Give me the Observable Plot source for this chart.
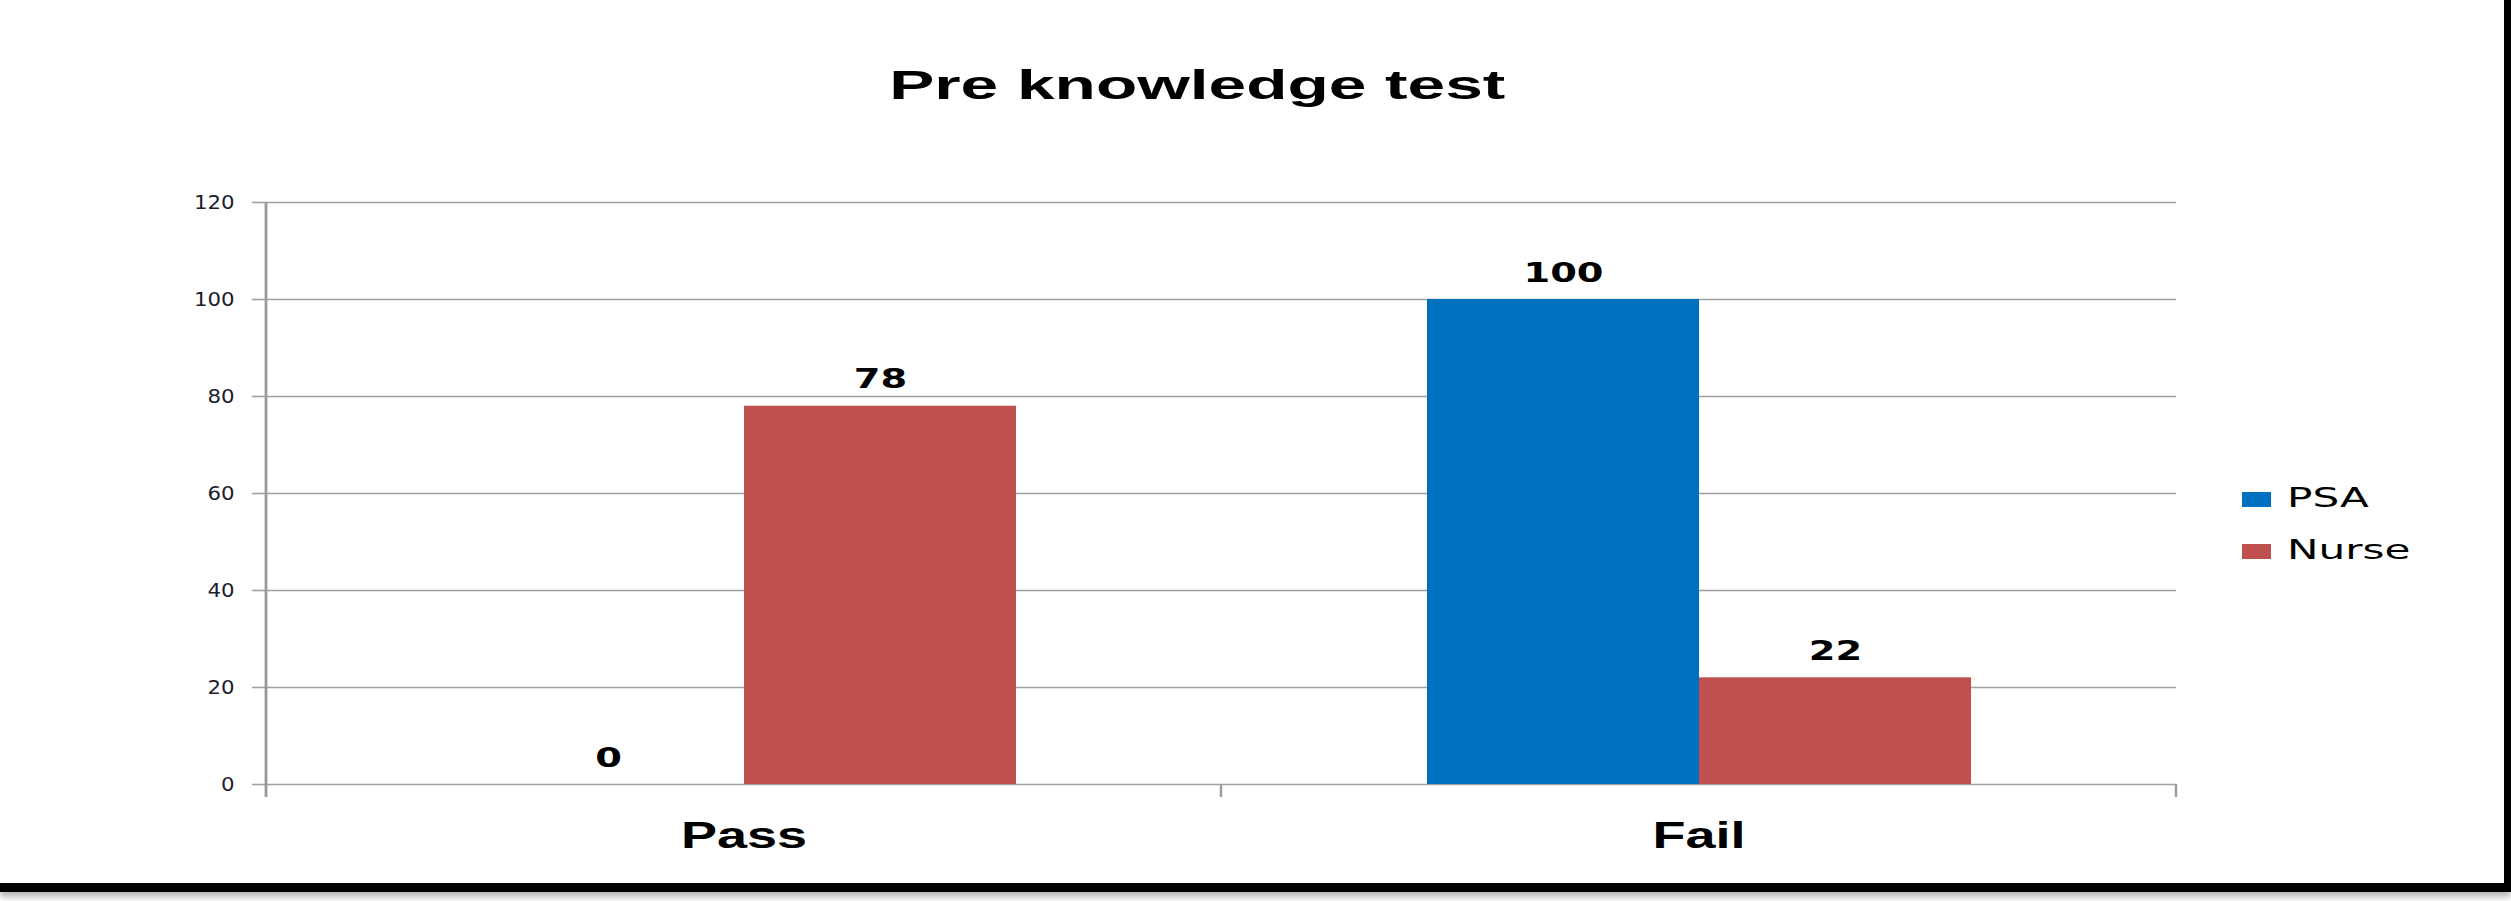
<!DOCTYPE html>
<html>
<head>
<meta charset="utf-8">
<script src="https://cdn.jsdelivr.net/npm/d3@7"></script>
<script src="https://cdn.jsdelivr.net/npm/@observablehq/plot@0.6"></script>
<style>
  html, body { margin: 0; padding: 0; background: #fff; overflow: hidden; width: 2511px; height: 901px; }
  #page {
    position: relative; width: 2504px; height: 883px; background: #fff;
    border-right: 7px solid #000; border-bottom: 9px solid #000;
    box-shadow: 0 5px 6px rgba(0,0,0,0.28);
  }
  #title {
    position: absolute; left: 0; top: 65px; width: 2394px; text-align: center;
    font-family: "Liberation Sans", Arial, sans-serif; font-weight: bold; font-size: 40px; line-height: 40px; color: #000;
  }
  #title span { display: inline-block; transform: scaleX(1.69); transform-origin: center; }
  #chart { position: absolute; left: 0; top: 0; }
  .lg-row { position: absolute; left: 2242px; height: 40px; width: 240px; }
  .lg-sw { position: absolute; left: 0; top: 9px; width: 29px; height: 15px; }
  .lg-tx {
    position: absolute; left: 45px; top: 1px; white-space: nowrap;
    font-family: "DejaVu Sans", Verdana, sans-serif; font-size: 26px; line-height: 28px; color: #000;
    transform: scaleX(1.62); transform-origin: left center;
  }
</style>
</head>
<body>
<div id="page">
  <div id="chart"></div>
  <div id="title"><span>Pre knowledge test</span></div>
  <div id="legend"></div>
</div>
<script>
// ---- data ----
const categories = ["Pass", "Fail"];
const series = ["PSA", "Nurse"];
const psaValues = [0, 100];
const nurseValues = [78, 22];
const seriesColors = ["#0070C0", "#C0504D"];
const yTicks = [0, 20, 40, 60, 80, 100, 120];

const data = categories.flatMap((c, i) => [
  {category: c, series: series[0], value: psaValues[i]},
  {category: c, series: series[1], value: nurseValues[i]}
]);

const plot = Plot.plot({
  width: 2504,
  height: 883,
  marginTop: 202,
  marginBottom: 99,
  marginLeft: 266,
  marginRight: 328,
  fx: {domain: categories, padding: 0, axis: null, label: null},
  x: {domain: series, paddingInner: 0, paddingOuter: 0.755, axis: null},
  y: {domain: [0, 120], label: null},
  color: {domain: series, range: seriesColors},
  style: {background: "transparent", overflow: "visible"},
  marks: [
    Plot.gridY(yTicks, {stroke: "#a0a0a0", strokeOpacity: 1, strokeWidth: 1.6}),
    Plot.barY(data, {fx: "category", x: "series", y: "value", fill: "series"}),
    Plot.text(data, {
      fx: "category", x: "series", y: "value", text: d => String(d.value),
      lineAnchor: "bottom", dy: -18, fontSize: 27, fontWeight: "bold",
      fontFamily: "DejaVu Sans", fill: "#000"
    }),
    Plot.text(categories, {
      fx: d => d, text: d => d, frameAnchor: "bottom", lineAnchor: "top", dy: 38,
      fontSize: 36, fontWeight: "bold", fontFamily: "Liberation Sans", fill: "#000"
    }),
    Plot.axisY(yTicks, {
      tickSize: 14, tickPadding: 18, fontSize: 19, fontFamily: "DejaVu Sans",
      stroke: "#a0a0a0", strokeWidth: 1.6, fill: "#1c1c2c", label: null
    })
  ]
});

document.getElementById("chart").append(plot);

const svg = d3.select(plot);

// axis line on the left and category boundary ticks, from Plot's own scales
const fxS = plot.scale("fx");
const yS = plot.scale("y");
const left = fxS.apply(categories[0]);
const mid = fxS.apply(categories[1]);
const right = mid + fxS.bandwidth;
const y0 = yS.apply(0);
const yTop = yS.apply(yTicks[yTicks.length - 1]);
const ax = svg.append("g").attr("stroke", "#9a9a9a").attr("fill", "none");
ax.append("line").attr("x1", left).attr("x2", left).attr("y1", yTop).attr("y2", y0 + 13).attr("stroke-width", 2.8);
[mid, right].forEach(x => {
  ax.append("line").attr("x1", x).attr("x2", x).attr("y1", y0).attr("y2", y0 + 13).attr("stroke-width", 2.4);
});

// horizontal stretch of the texts, as in the reference (by font size)
const stretchBySize = new Map([[19, 1.12], [27, 1.42], [36, 1.5]]);
svg.selectAll("text").each(function () {
  const fs = Math.round(parseFloat(getComputedStyle(this).fontSize));
  const k = stretchBySize.get(fs);
  if (!k) return;
  if (fs === 19) this.setAttribute("fill", "#1c1c2c");
  const L = this.getComputedTextLength();
  this.setAttribute("textLength", L * k);
  this.setAttribute("lengthAdjust", "spacingAndGlyphs");
});

// legend
const legend = document.getElementById("legend");
series.forEach((s, i) => {
  const row = document.createElement("div");
  row.className = "lg-row";
  row.style.top = (483 + i * 52) + "px";
  const sw = document.createElement("div");
  sw.className = "lg-sw";
  sw.style.background = seriesColors[i];
  const tx = document.createElement("div");
  tx.className = "lg-tx";
  tx.textContent = s;
  row.append(sw, tx);
  legend.append(row);
});
</script>
</body>
</html>
